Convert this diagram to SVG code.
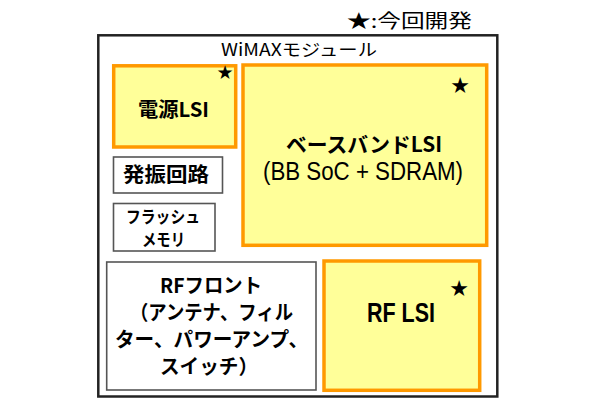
<svg xmlns="http://www.w3.org/2000/svg" width="610" height="400" viewBox="0 0 610 400">
<style>
.lsi{fill:#FFFF99;stroke:#FF9900;stroke-width:3.5}
.part{fill:#FFFFFF;stroke:#555555;stroke-width:1.6}
.outer{fill:#FFFFFF;stroke:#222222;stroke-width:2.5}
text{font-family:"Liberation Sans","Noto Sans CJK JP",sans-serif;fill:#000000}
.jb{font-family:"Noto Sans CJK JP","Liberation Sans",sans-serif;font-weight:bold}
.jn{font-family:"Noto Sans CJK JP","Liberation Sans",sans-serif;font-weight:normal}
.lb{font-family:"Liberation Sans",sans-serif;font-weight:bold}
.ln{font-family:"Liberation Sans",sans-serif;font-weight:normal}
.star{font-family:"DejaVu Sans","Noto Sans CJK JP",sans-serif;font-size:22px}
</style>
<rect width="610" height="400" fill="#FFFFFF"/>
<text class="jn" x="347" y="28" font-size="19" textLength="125" lengthAdjust="spacingAndGlyphs">★:今回開発</text>
<g id="module">
<rect class="outer" x="98.3" y="35.3" width="399" height="361.2"/>
<text class="jn" x="221" y="56" font-size="17" textLength="156" lengthAdjust="spacingAndGlyphs">WiMAXモジュール</text>
</g>
<g id="power-lsi">
<rect class="lsi" x="113.7" y="65.8" width="122" height="81.2"/>
<text class="jb" x="138" y="117" font-size="20" textLength="71" lengthAdjust="spacingAndGlyphs">電源LSI</text>
<text class="star" x="225" y="79" font-size="19" text-anchor="middle" style="font-size:19px">★</text>
</g>
<g id="baseband-lsi">
<rect class="lsi" x="243" y="65" width="243.7" height="180.3"/>
<text class="jb" x="286" y="152" font-size="21" textLength="156" lengthAdjust="spacingAndGlyphs">ベースバンドLSI</text>
<text class="ln" x="263" y="180" font-size="26" textLength="200" lengthAdjust="spacingAndGlyphs">(BB SoC + SDRAM)</text>
<text class="star" x="460" y="93" text-anchor="middle">★</text>
</g>
<g id="oscillator">
<rect class="part" x="113.5" y="157" width="109" height="36"/>
<text class="jb" x="123" y="182" font-size="20" textLength="86" lengthAdjust="spacingAndGlyphs">発振回路</text>
</g>
<g id="flash">
<rect class="part" x="113.5" y="203.5" width="101.5" height="47.5"/>
<text class="jb" x="126" y="223" font-size="17" textLength="74" lengthAdjust="spacingAndGlyphs">フラッシュ</text>
<text class="jb" x="142" y="246" font-size="17" textLength="43" lengthAdjust="spacingAndGlyphs">メモリ</text>
</g>
<g id="rf-front">
<rect class="part" x="106.7" y="262" width="209.3" height="128"/>
<text class="jb" x="160" y="293" font-size="20" textLength="102" lengthAdjust="spacingAndGlyphs">RFフロント</text>
<text class="jb" x="130" y="320" font-size="20" textLength="163" lengthAdjust="spacingAndGlyphs">（アンテナ、フィル</text>
<text class="jb" x="115" y="347" font-size="20" textLength="193" lengthAdjust="spacingAndGlyphs">ター、パワーアンプ、</text>
<text class="jb" x="160" y="374" font-size="20" textLength="98" lengthAdjust="spacingAndGlyphs">スイッチ）</text>
</g>
<g id="rf-lsi">
<rect class="lsi" x="324" y="261" width="155.7" height="129.3"/>
<text class="lb" x="367" y="322" font-size="27" textLength="68" lengthAdjust="spacingAndGlyphs">RF LSI</text>
<text class="star" x="459" y="296" text-anchor="middle">★</text>
</g>
<g id="connectors"></g>
</svg>
